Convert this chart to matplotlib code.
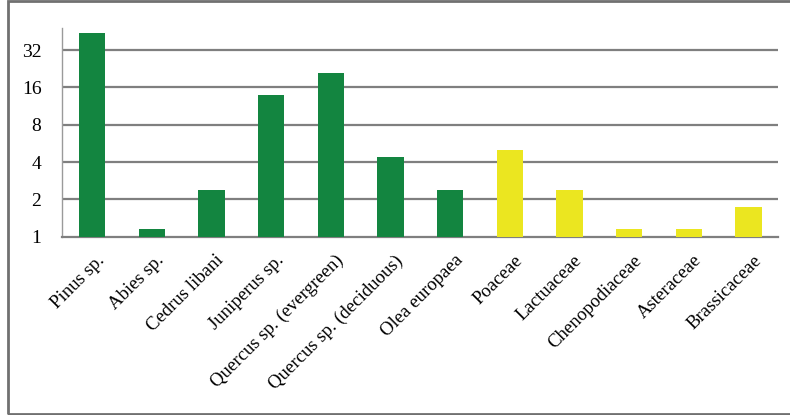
import matplotlib.pyplot as plt
import matplotlib.transforms as mtransforms
from matplotlib.patches import Rectangle

taxa = ["Pinus sp.", "Abies sp.", "Cedrus libani", "Juniperus sp.",
        "Quercus sp. (evergreen)", "Quercus sp. (deciduous)", "Olea europaea",
        "Poaceae", "Lactuaceae", "Chenopodiaceae", "Asteraceae", "Brassicaceae"]
values = [43.7, 1.15, 2.4, 13.9, 21.1, 4.4, 2.4, 5.0, 2.4, 1.16, 1.16, 1.74]
groups = ["tree"] * 7 + ["herb"] * 5
yticks = [1, 2, 4, 8, 16, 32]

colors = {"tree": "#138540", "herb": "#ebe620"}

plt.rcParams["font.family"] = ["Liberation Serif", "DejaVu Serif"]

fig = plt.figure(figsize=(7.9, 4.15), dpi=100, facecolor="w")
ax = fig.add_axes([62.3 / 790, 1 - 236.7 / 415, (778.3 - 62.3) / 790, (236.7 - 28.3) / 415])

x = list(range(len(taxa)))
ax.bar(x, values, width=0.44, color=[colors[g] for g in groups], zorder=3,
       edgecolor="none")
ax.set_yscale("log", base=2)
ax.set_ylim(1, 2 ** ((236.7 - 28.3) / 37.3))
ax.set_xlim(-0.5, len(taxa) - 0.5)

ax.set_yticks(yticks)
ax.set_yticklabels([str(t) for t in yticks], fontsize=14)
ax.yaxis.set_minor_locator(plt.NullLocator())
ax.tick_params(axis="y", length=0, pad=15)
for t in yticks[1:]:
    ax.axhline(t, color="#7f7f7f", lw=1.6, zorder=1)

ax.set_xticks(x)
ax.set_xticklabels(taxa, rotation=45, ha="right", va="top", rotation_mode="anchor", fontsize=13.5)
ax.tick_params(axis="x", length=0, pad=11)
shift = mtransforms.ScaledTranslation(4 / 100, 0, fig.dpi_scale_trans)
for lbl in ax.get_xticklabels():
    lbl.set_transform(lbl.get_transform() + shift)

for s in ["top", "right"]:
    ax.spines[s].set_visible(False)
ax.spines["left"].set_color("#9a9a9a")
ax.spines["bottom"].set_color("#7f7f7f")
ax.spines["left"].set_linewidth(1.0)
ax.spines["bottom"].set_linewidth(1.6)

# outer frame
fig.patches.append(Rectangle((7.5 / 790, 1.5 / 415), 1.0, 412 / 415, transform=fig.transFigure,
                             fill=False, edgecolor="#707070", lw=2))

plt.savefig("out.png", dpi=100)
